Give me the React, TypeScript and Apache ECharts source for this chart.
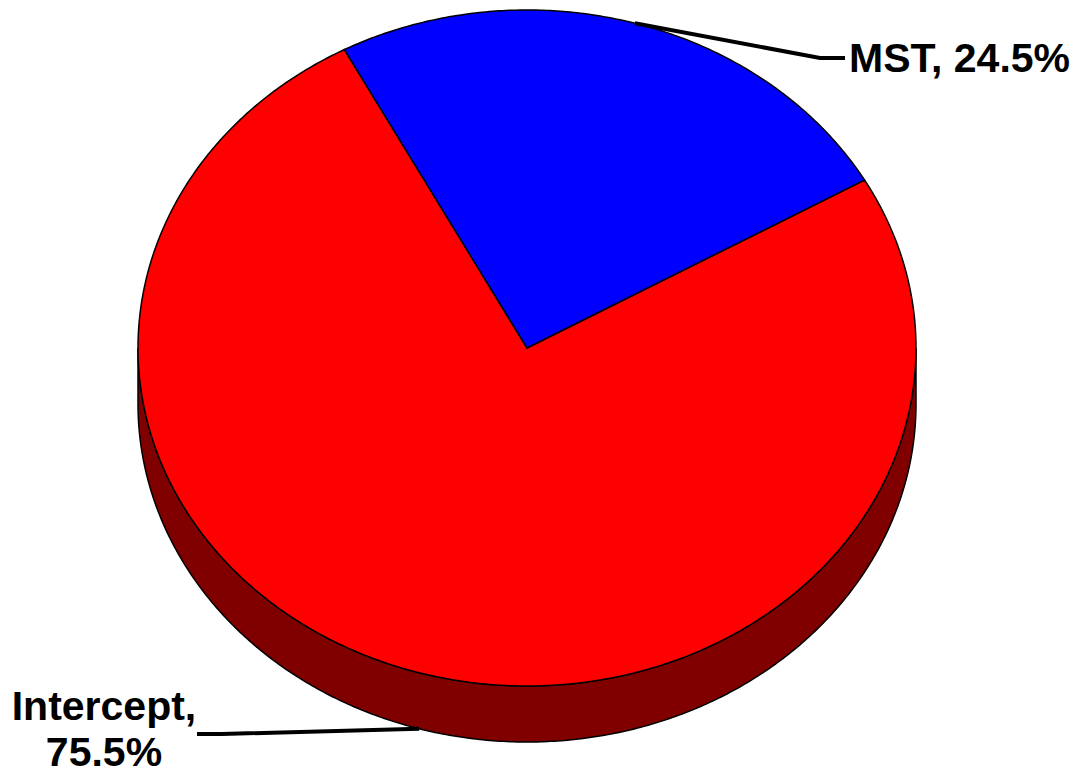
import React, { useEffect, useRef } from "react";
import * as echarts from "echarts";

// ---- data ----
const categories = ["Intercept", "MST"];
const shares = [75.5, 24.5];
const labelTexts = ["Intercept,\n75.5%", "MST, 24.5%"];

// ---- styles / layout ----
const topColors = ["#ff0000", "#0000ff"];
const sideColors = ["#800000", "#000080"];
const START_ANGLE = 29.8; // degrees, math convention, slices run clockwise
const CX = 527;
const CY = 348;
const RX = 389;
const RY = 338;
const DEPTH = 56;
const LABEL_LAYOUT = [
  { elbow: [222, 734], end: [197, 734], text: [104, 729], align: "center", lineHeight: 46 },
  { elbow: [820, 58], end: [845, 58], text: [849, 58], align: "left", lineHeight: 46 },
];
const FONT = "bold 41px 'Liberation Sans', Arial, Helvetica, sans-serif";

const total = shares.reduce((a, b) => a + b, 0);

function pt(a: number, dy = 0): number[] {
  const r = (a * Math.PI) / 180;
  return [CX + RX * Math.cos(r), CY - RY * Math.sin(r) + dy];
}

function arcPoints(a1: number, a2: number, dy = 0): number[][] {
  const n = Math.max(2, Math.ceil(Math.abs(a2 - a1) / 0.5) + 1);
  const out: number[][] = [];
  for (let i = 0; i < n; i++) {
    const a = a1 + ((a2 - a1) * i) / (n - 1);
    out.push(pt(a, dy));
  }
  return out;
}

function sliceRange(idx: number, value: number) {
  let cum = 0;
  for (let i = 0; i < idx; i++) cum += shares[i];
  const hi = START_ANGLE - (cum / total) * 360;
  const lo = hi - (value / total) * 360;
  return { lo, hi };
}

export default function App() {
  const ref = useRef<HTMLDivElement>(null);
  useEffect(() => {
    if (!ref.current) return;
    const chart = echarts.init(ref.current, null, { renderer: "svg" });
    const data = categories.map((n, i) => ({ name: n, value: shares[i] }));

    const sideSeries = {
      type: "custom",
      coordinateSystem: "none",
      z: 1,
      silent: true,
      data,
      renderItem: (params: any, api: any) => {
        const idx = params.dataIndex;
        const v = api.value(0);
        const { lo, hi } = sliceRange(idx, v);
        const children: any[] = [];
        for (let k = -2; k <= 1; k++) {
          const fLo = -180 + 360 * k;
          const fHi = 360 * k;
          const s = Math.max(lo, fLo);
          const e = Math.min(hi, fHi);
          if (e > s) {
            const top = arcPoints(e, s, 0);
            const bot = arcPoints(e, s, DEPTH).reverse();
            children.push({
              type: "polygon",
              shape: { points: top.concat(bot) },
              style: { fill: sideColors[idx], stroke: "#000", lineWidth: 1.5 },
            });
          }
        }
        return { type: "group", children };
      },
    };

    const topSeries = {
      type: "custom",
      coordinateSystem: "none",
      z: 2,
      silent: true,
      data,
      renderItem: (params: any, api: any) => {
        const idx = params.dataIndex;
        const v = api.value(0);
        const { lo, hi } = sliceRange(idx, v);
        const pts = [[CX, CY]].concat(arcPoints(hi, lo, 0));
        return {
          type: "polygon",
          shape: { points: pts },
          style: { fill: topColors[idx], stroke: "#000", lineWidth: 1.5 },
        };
      },
    };

    const labelSeries = {
      type: "custom",
      coordinateSystem: "none",
      z: 3,
      silent: true,
      data,
      renderItem: (params: any, api: any) => {
        const idx = params.dataIndex;
        const v = api.value(0);
        const { lo, hi } = sliceRange(idx, v);
        const mid = (lo + hi) / 2;
        const front = Math.sin((mid * Math.PI) / 180) < 0;
        const anchor = pt(mid, front ? DEPTH : 0);
        const L = LABEL_LAYOUT[idx];
        return {
          type: "group",
          children: [
            {
              type: "polyline",
              shape: { points: [anchor, L.elbow, L.end] },
              style: { stroke: "#000", lineWidth: 4, fill: null },
            },
            {
              type: "text",
              style: {
                text: labelTexts[idx],
                x: L.text[0],
                y: L.text[1],
                font: FONT,
                fill: "#000",
                align: L.align,
                verticalAlign: "middle",
                lineHeight: L.lineHeight,
              },
            },
          ],
        };
      },
    };

    chart.setOption({
      animation: false,
      backgroundColor: "#ffffff",
      series: [sideSeries, topSeries, labelSeries],
    });
    return () => chart.dispose();
  }, []);

  return (
    <div
      ref={ref}
      style={{ position: "fixed", left: 0, top: 0, width: 1080, height: 778, background: "#fff" }}
    />
  );
}
